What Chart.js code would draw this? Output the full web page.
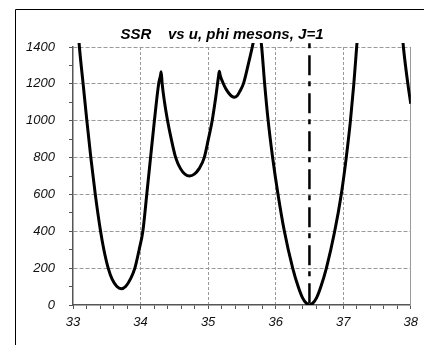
<!DOCTYPE html>
<html>
<head>
<meta charset="utf-8">
<script src="https://cdn.jsdelivr.net/npm/chart.js@4.4.1/dist/chart.umd.min.js"></script>
<style>
  html, body { margin: 0; padding: 0; background: #fff; }
  canvas { display: block; }
</style>
</head>
<body>
<canvas id="ssr" width="424" height="345"></canvas>
<script>
// SSR against u; null marks where the curve leaves the top of the plot
const uValues = [
  33.085, 33.095, 33.150, 33.205, 33.264, 33.330, 33.408, 33.457, 33.521, 33.579,
  33.650, 33.714, 33.779, 33.849, 33.916, 33.979, 34.034, 34.092, 34.148, 34.205,
  34.268, 34.295, 34.305, 34.320, 34.355, 34.400, 34.455, 34.520, 34.591,
  34.657, 34.726, 34.796, 34.867, 34.943, 35.004, 35.060, 35.114, 35.154, 35.166,
  35.180, 35.215, 35.260, 35.310, 35.350, 35.386, 35.430, 35.470, 35.522, 35.591, 35.654,
  35.683, 35.730, 35.778, 35.793, 35.837, 35.889, 35.955, 36.035, 36.129, 36.252,
  36.333, 36.396, 36.453, 36.501, 36.550, 36.607, 36.670, 36.751, 36.874, 36.971,
  37.045, 37.107, 37.157, 37.199, 37.210, 37.550, 37.875, 37.891, 37.957, 38.000
];
const ssrValues = [
  1450, 1400, 1200, 1000, 800, 600, 400, 300, 200, 140,
  100, 88, 100, 140, 200, 300, 400, 600, 800, 1000,
  1200, 1245, 1266, 1200, 1100, 1000, 900, 800, 740,
  710, 700, 710, 740, 800, 900, 1000, 1130, 1240, 1268,
  1245, 1210, 1175, 1148, 1133, 1127, 1135, 1160, 1200, 1300, 1400,
  1450, null, 1450, 1400, 1200, 1000, 800, 600, 400, 200,
  100, 40, 10, 0, 10, 40, 100, 200, 400, 600,
  800, 1000, 1200, 1400, 1450, null, 1470, 1400, 1200, 1092
];

// best-fit u marker
const markerU = 36.5;
const markerSsr = [1420, 0];

const xLabelTicks = [33, 34, 35, 36, 37, 38];
const yLabelTicks = [0, 200, 400, 600, 800, 1000, 1200, 1400];

const titleText = 'SSR    vs u, phi mesons, J=1';
const fontFamily = "'Liberation Sans', Arial, sans-serif";

const isOn = (list, v) => list.some(t => Math.abs(t - v) < 1e-6);

const curve = uValues.map((u, i) => ({ x: u, y: ssrValues[i] }));
const marker = markerSsr.map(s => ({ x: markerU, y: s }));

const gridGray = '#9a9a9a';
const axisGray = '#555';

// outer frame and the title
const framePlugin = {
  id: 'frame',
  afterDraw(chart) {
    const ctx = chart.ctx;
    ctx.save();
    ctx.strokeStyle = '#000';
    ctx.lineWidth = 1;
    ctx.beginPath();
    ctx.moveTo(15.5, 345);
    ctx.lineTo(15.5, 9.5);
    ctx.lineTo(424, 9.5);
    ctx.stroke();

    ctx.fillStyle = '#000';
    ctx.font = 'bold italic 15px ' + fontFamily;
    ctx.textAlign = 'center';
    ctx.textBaseline = 'middle';
    ctx.fillText(titleText, 222, 35);
    ctx.restore();
  }
};

new Chart(document.getElementById('ssr'), {
  type: 'line',
  data: {
    datasets: [
      {
        data: curve,
        borderColor: '#000',
        borderWidth: 3,
        borderJoinStyle: 'round',
        pointRadius: 0,
        cubicInterpolationMode: 'monotone',
        spanGaps: false,
        clip: { left: 0, top: 4, right: 0, bottom: 0 }
      },
      {
        data: marker,
        borderColor: '#000',
        borderWidth: 2.5,
        borderDash: [5, 7, 20, 6],
        pointRadius: 0,
        clip: { left: 0, top: 4, right: 0, bottom: 0 }
      }
    ]
  },
  plugins: [framePlugin],
  options: {
    responsive: false,
    animation: false,
    devicePixelRatio: 1,
    layout: { padding: { left: 0, top: 47, right: 10, bottom: 0 } },
    plugins: {
      legend: { display: false },
      tooltip: { enabled: false },
      title: { display: false }
    },
    scales: {
      x: {
        type: 'linear',
        min: 33,
        max: 38,
        afterFit(scale) { scale.height = 40; },
        ticks: {
          stepSize: 0.2,
          autoSkip: false,
          maxRotation: 0,
          padding: 6,
          color: '#111',
          font: { family: fontFamily, size: 13, style: 'italic' },
          callback: v => isOn(xLabelTicks, v) ? String(Math.round(v)) : ''
        },
        grid: {
          color: c => {
            const v = c.tick ? c.tick.value : NaN;
            return (isOn(xLabelTicks, v) && v > 33 && v < 38) ? gridGray : 'rgba(0,0,0,0)';
          },
          lineWidth: 1,
          tickColor: axisGray,
          tickLength: 4,
          tickWidth: 1
        },
        border: { color: axisGray, width: 1.5, dash: [3, 2] }
      },
      y: {
        min: 0,
        max: 1400,
        afterFit(scale) { scale.width = 73; },
        ticks: {
          stepSize: 100,
          autoSkip: false,
          padding: 14,
          color: '#111',
          font: { family: fontFamily, size: 13, style: 'italic' },
          callback: v => isOn(yLabelTicks, v) ? String(v) : ''
        },
        grid: {
          color: c => {
            const v = c.tick ? c.tick.value : NaN;
            return (isOn(yLabelTicks, v) && v > 0) ? gridGray : 'rgba(0,0,0,0)';
          },
          lineWidth: 1,
          tickColor: axisGray,
          tickLength: 4,
          tickWidth: 1
        },
        border: { color: axisGray, width: 1.5, dash: [4, 2] }
      },
      yRight: {
        type: 'linear',
        position: 'right',
        min: 0,
        max: 1400,
        afterFit(scale) { scale.width = 0; },
        ticks: { display: false },
        grid: { drawOnChartArea: false, drawTicks: false },
        border: { color: gridGray, width: 1 }
      }
    }
  }
});
</script>
</body>
</html>
